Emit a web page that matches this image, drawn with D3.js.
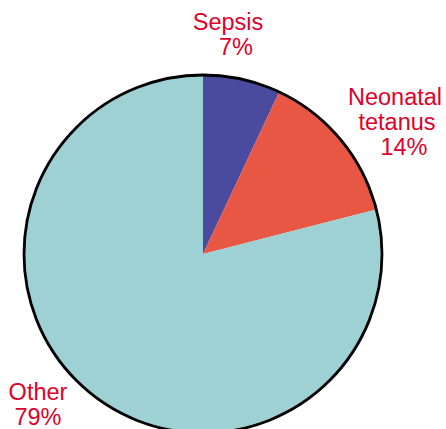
<!DOCTYPE html>
<html>
<head>
<meta charset="utf-8">
<script src="https://cdn.jsdelivr.net/npm/d3@7"></script>
<style>
  html, body { margin: 0; padding: 0; background: #fff; }
  svg { display: block; }
</style>
</head>
<body>
<figure id="pie" style="margin:0"></figure>
<script>
// chart data
const categories = ["Sepsis", "Neonatal tetanus", "Other"];
const values = [7, 14, 79];
const labelLines = [["Sepsis", "7%"], ["Neonatal", "tetanus", "14%"], ["Other", "79%"]];
const colors = ["#4a4a9e", "#e85744", "#9dd1d4"];

const width = 446, height = 429;
const cx = 203, cy = 254, radius = 179;

const svg = d3.select("figure#pie")
  .append("svg")
  .attr("width", width)
  .attr("height", height);

const g = svg.append("g")
  .attr("transform", "translate(" + cx + "," + cy + ")");

const pie = d3.pie().sort(null).value(d => d);
const arc = d3.arc().innerRadius(0).outerRadius(radius);

g.selectAll("path.slice")
  .data(pie(values))
  .enter()
  .append("path")
  .attr("class", "slice")
  .attr("d", arc)
  .attr("fill", (d, i) => colors[i]);

// outline round the whole pie
g.append("circle")
  .attr("r", radius)
  .attr("fill", "none")
  .attr("stroke", "#000")
  .attr("stroke-width", 2.8);

// label placement (per line x, first baseline)
const labelPos = [
  { xs: [228, 236], y: 30 },
  { xs: [395, 397, 404], y: 105 },
  { xs: [38, 38], y: 400 }
];
const lineH = 25;

labelLines.forEach((lines, i) => {
  const t = svg.append("text")
    .attr("font-family", "Liberation Sans, Arial, sans-serif")
    .attr("font-size", 23.5)
    .attr("fill", "#e0002a")
    .attr("text-anchor", "middle");
  lines.forEach((s, j) => {
    t.append("tspan")
      .attr("x", labelPos[i].xs[j])
      .attr("y", labelPos[i].y + j * lineH)
      .text(s);
  });
});
</script>
</body>
</html>
